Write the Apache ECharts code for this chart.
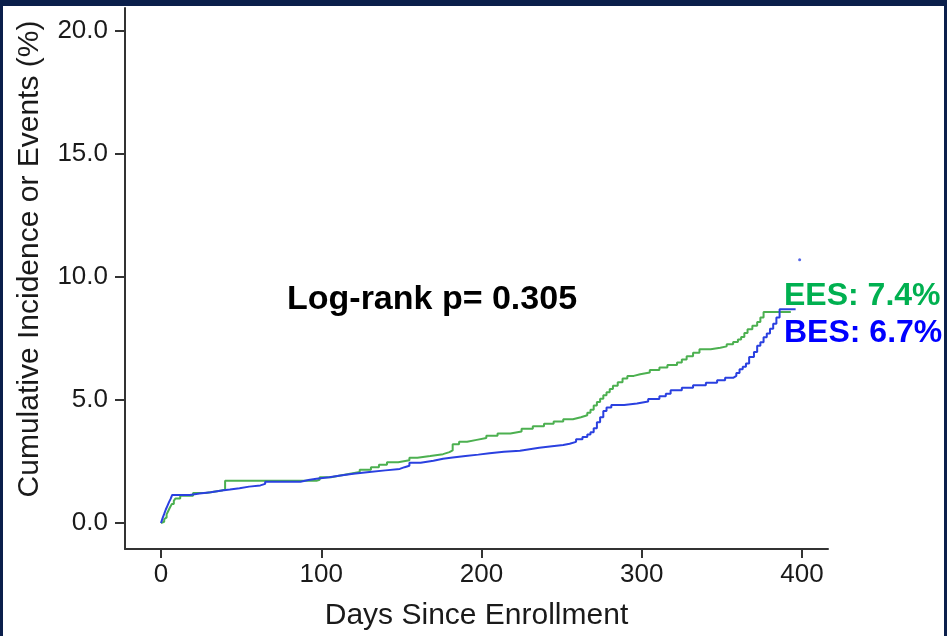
<!DOCTYPE html>
<html>
<head>
<meta charset="utf-8">
<script src="https://cdn.jsdelivr.net/npm/echarts@6/dist/echarts.min.js"></script>
<style>
html,body{margin:0;padding:0;background:#fff;}
#chart{width:947px;height:636px;}
</style>
</head>
<body>
<div id="chart"></div>
<script>
// ---- data ----
var xTicks = [0, 100, 200, 300, 400];
var yTicks = [0, 5, 10, 15, 20];

var besDays = [0,1,2,3,4,5,6,7,18,24,31,38,43,49,55,62,65,87,92,97,105,112,120,130,140,149,152,155,162,170,176,182,190,198,205,214,224,228,236,244,251,255,259,263,266,268,270,272,274,276,278,281,289,297,304,311,315,318,325,332,340,347,352,357,359,361,363,365,367,370,372,374,376,378,380,382,384,386,396];
var besPct  = [0,0.2,0.37,0.55,0.7,0.85,0.98,1.14,1.2,1.25,1.32,1.36,1.41,1.48,1.53,1.59,1.68,1.75,1.8,1.86,1.93,2.0,2.07,2.14,2.2,2.27,2.33,2.45,2.53,2.61,2.66,2.72,2.78,2.84,2.9,2.94,2.98,3.06,3.12,3.17,3.22,3.3,3.4,3.5,3.6,3.69,3.85,4.1,4.3,4.55,4.7,4.8,4.86,4.94,5.04,5.15,5.25,5.4,5.5,5.6,5.7,5.8,5.9,5.98,6.1,6.25,6.35,6.48,6.75,6.95,7.2,7.35,7.55,7.7,7.9,8.1,8.35,8.69,8.69];

var eesDays = [0,1,2,2.5,3.5,4.6,5.5,6.7,8,9,12,20,28,33,38,40,97,99,106,112,118,124,131,136,141,148,155,160,168,176,180,182,186,191,197,203,210,218,225,232,239,245,251,257,262,266,268,270,272,274,276,278,280,282,285,288,291,295,299,305,311,316,322,325,328,332,336,343,349,353,357,360,362,364,366,369,372,374,376,393];
var eesPct  = [0,0.05,0.15,0.23,0.35,0.5,0.62,0.77,0.9,1.0,1.11,1.22,1.27,1.32,1.38,1.72,1.76,1.86,1.93,2.0,2.07,2.17,2.27,2.37,2.47,2.55,2.65,2.72,2.8,2.88,2.95,3.2,3.3,3.38,3.46,3.55,3.64,3.72,3.83,3.93,4.03,4.13,4.22,4.3,4.38,4.48,4.6,4.78,4.92,5.05,5.19,5.32,5.45,5.58,5.72,5.87,5.98,6.05,6.12,6.22,6.32,6.42,6.52,6.65,6.78,6.92,7.06,7.12,7.18,7.27,7.36,7.46,7.56,7.72,7.88,8.02,8.17,8.35,8.58,8.58];

var strayMark = [[398.5, 10.7]];

var pText = 'Log-rank p= 0.305';
var eesLabel = 'EES: 7.4%';
var besLabel = 'BES: 6.7%';
var xTitle = 'Days Since Enrollment';
var yTitle = 'Cumulative Incidence or Events (%)';

function zip(a, b) { return a.map(function (v, i) { return [v, b[i]]; }); }

var chart = echarts.init(document.getElementById('chart'), null, {renderer: 'canvas'});
var font = '"Liberation Sans", Arial, sans-serif';
var axisColor = '#333';

chart.setOption({
  backgroundColor: '#ffffff',
  animation: false,
  grid: {left: 125, right: 119, top: 8, bottom: 86},
  xAxis: {
    type: 'value', min: -22.46, max: 416.2,
    splitLine: {show: false},
    axisLine: {show: true, onZero: false, lineStyle: {color: axisColor, width: 2}},
    axisTick: {show: true, length: 9, customValues: xTicks, lineStyle: {color: axisColor, width: 2}},
    axisLabel: {customValues: xTicks, fontSize: 26, color: '#1a1a1a', fontFamily: font, margin: 13},
    name: xTitle, nameLocation: 'middle', nameGap: 52,
    nameTextStyle: {fontSize: 30, color: '#1a1a1a', fontFamily: font}
  },
  yAxis: {
    type: 'value', min: -1.055, max: 20.93,
    splitLine: {show: false},
    axisLine: {show: true, onZero: false, lineStyle: {color: axisColor, width: 2}},
    axisTick: {show: true, length: 10, customValues: yTicks, lineStyle: {color: axisColor, width: 2}},
    axisLabel: {customValues: yTicks, fontSize: 26, color: '#1a1a1a', fontFamily: font, margin: 17,
      formatter: function (v) { return v.toFixed(1); }}
  },
  graphic: [
    {type: 'rect', shape: {x: 0, y: 0, width: 947, height: 6}, style: {fill: '#0b1f4b'}, z: 100},
    {type: 'rect', shape: {x: 0, y: 0, width: 3, height: 636}, style: {fill: '#0b1f4b'}, z: 100},
    {type: 'rect', shape: {x: 944, y: 0, width: 3, height: 636}, style: {fill: '#0b1f4b'}, z: 100},
    {type: 'text', x: 30, y: 259, rotation: Math.PI / 2,
      style: {text: yTitle, fontSize: 30, fill: '#1a1a1a', fontFamily: font, align: 'center', verticalAlign: 'middle'}},
    {type: 'text', x: 287, y: 300,
      style: {text: pText, fontSize: 34, fontWeight: 'bold', fill: '#000', fontFamily: font, align: 'left', verticalAlign: 'middle'}},
    {type: 'text', x: 784, y: 296,
      style: {text: eesLabel, fontSize: 32, fontWeight: 'bold', fill: '#00b050', fontFamily: font, align: 'left', verticalAlign: 'middle'}},
    {type: 'text', x: 784, y: 333,
      style: {text: besLabel, fontSize: 32, fontWeight: 'bold', fill: '#0000ff', fontFamily: font, align: 'left', verticalAlign: 'middle'}}
  ],
  series: [
    {type: 'line', name: 'EES', step: 'end', data: zip(eesDays, eesPct), showSymbol: false,
      lineStyle: {color: '#4cb050', width: 2}, itemStyle: {color: '#4cb050'}},
    {type: 'line', name: 'BES', step: 'end', data: zip(besDays, besPct), showSymbol: false,
      lineStyle: {color: '#2a40e0', width: 2}, itemStyle: {color: '#2a40e0'}},
    {type: 'scatter', data: strayMark, symbolSize: 3, itemStyle: {color: '#2a40e0'}}
  ]
});
</script>
</body>
</html>
